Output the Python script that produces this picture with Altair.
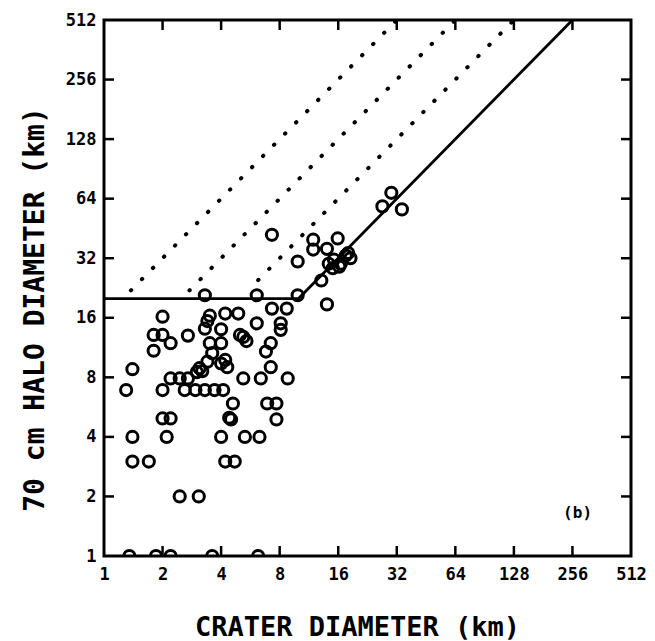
import altair as alt
import pandas as pd

# ---- data ----
crater_d = [3.3, 6.1, 9.9, 7.3, 8.7, 14.0, 2.0, 3.5, 3.4, 4.2, 4.9, 6.1, 8.1, 8.1,
            1.8, 2.0, 2.2, 2.7, 1.8, 3.3, 4.0, 3.5, 4.0, 5.0, 5.2, 5.4, 7.2, 6.8,
            3.6, 4.2, 4.3, 4.0, 3.1, 3.2, 3.0, 3.4, 1.4, 7.2, 5.2, 6.4, 8.8,
            1.3, 2.0, 2.2, 2.45, 2.7, 2.6, 2.95, 3.3, 3.7, 4.1, 4.6, 4.4, 4.5,
            6.9, 7.7, 7.7, 2.0, 2.2, 1.4, 2.1, 4.0, 5.3, 6.3, 1.4, 1.7, 4.2, 4.7,
            2.45, 3.07, 1.35, 1.85, 2.2, 3.6, 6.2,
            7.3, 9.9, 11.9, 11.9, 14.0, 15.9, 14.3, 15.2, 16.5, 17.5, 18.5, 15.0,
            16.2, 18.0, 13.1, 27.0, 30.0, 34.0]
halo_d = [20.8, 20.8, 20.8, 17.8, 17.8, 18.7, 16.2, 16.4, 15.4, 16.8, 16.8, 15.0, 15.0, 13.9,
          13.1, 13.1, 11.9, 13.0, 10.9, 14.1, 14.0, 11.9, 11.9, 13.1, 12.8, 12.2, 11.9, 10.8,
          10.6, 9.8, 9.0, 9.4, 8.9, 8.6, 8.5, 9.6, 8.8, 9.0, 7.9, 7.9, 7.9,
          6.9, 6.9, 7.9, 7.9, 7.9, 6.9, 6.9, 6.9, 6.9, 6.9, 5.9, 5.0, 4.9,
          5.9, 5.9, 4.9, 4.96, 4.96, 4.0, 4.0, 4.0, 4.0, 4.0, 3.0, 3.0, 3.0, 3.0,
          2.0, 2.0, 1.0, 1.0, 1.0, 1.0, 1.0,
          42.0, 30.8, 39.7, 35.4, 35.7, 40.3, 30.0, 31.5, 30.0, 33.0, 32.0, 28.5,
          29.0, 34.0, 24.7, 58.5, 68.5, 56.5]

# solid envelope line
solid_x = [1, 10, 256]
solid_y = [20, 20, 512]

# dotted lines (halo = 16x, 8x, 4x crater diameter)
dot_grp = ["a", "a", "b", "b", "c", "c"]
dot_x = [1.375, 32, 2.75, 64, 6.2, 128]
dot_y = [22, 512, 22, 512, 24.8, 512]

tick_vals = [1, 2, 4, 8, 16, 32, 64, 128, 256, 512]
inner_ticks = [2, 4, 8, 16, 32, 64, 128, 256]

W, H = 527, 536
FONT = "DejaVu Sans Mono"

pts = pd.DataFrame({"x": crater_d, "y": halo_d})
solid = pd.DataFrame({"x": solid_x, "y": solid_y})
dots = pd.DataFrame({"g": dot_grp, "x": dot_x, "y": dot_y})
ticks = pd.DataFrame({"x": inner_ticks, "y": inner_ticks})
label_df = pd.DataFrame({"x": [272], "y": [1.64], "t": ["(b)"]})

xs = alt.Scale(type="log", base=2, domain=[1, 512], nice=False)
ys = alt.Scale(type="log", base=2, domain=[1, 512], nice=False)

x_axis = alt.Axis(values=tick_vals, title="CRATER DIAMETER (km)", grid=False, domain=False,
                  ticks=False, labelFont=FONT, labelFontWeight="bold", labelFontSize=17,
                  labelColor="black", labelPadding=10, labelFlush=False, labelOverlap=False,
                  titleFont=FONT, titleFontSize=27, titleFontWeight="bold", titleColor="black",
                  titleX=253, titleY=71, titleBaseline="middle", titleAlign="center")
y_axis = alt.Axis(values=tick_vals, title="70 cm HALO DIAMETER (km)", grid=False, domain=False,
                  ticks=False, labelFont=FONT, labelFontWeight="bold", labelFontSize=17,
                  labelColor="black", labelPadding=8, labelFlush=False, labelOverlap=False,
                  labelBaseline="middle",
                  titleFont=FONT, titleFontSize=28, titleFontWeight="bold", titleColor="black",
                  titleX=-69, titleY=289, titleAngle=270, titleBaseline="middle", titleAlign="center")

X = alt.X("x:Q", scale=xs, axis=x_axis)
Y = alt.Y("y:Q", scale=ys, axis=y_axis)

points = alt.Chart(pts).mark_point(shape="circle", filled=False, color="black", size=125,
                                   strokeWidth=3, opacity=1, clip=True).encode(x=X, y=Y)

solid_line = alt.Chart(solid).mark_line(color="black", strokeWidth=2.8, clip=True).encode(x=X, y=Y)

dotted = alt.Chart(dots).mark_line(color="black", strokeWidth=4, strokeCap="round",
                                   strokeDash=[0.5, 15.2], clip=True).encode(
    x=X, y=Y, detail="g:N")

tk = dict(color="black", strokeWidth=2.5)
tick_bottom = alt.Chart(ticks).mark_rule(**tk).encode(x=X, y=alt.value(H), y2=alt.value(H - 10))
tick_top = alt.Chart(ticks).mark_rule(**tk).encode(x=X, y=alt.value(0), y2=alt.value(10))
tick_left = alt.Chart(ticks).mark_rule(**tk).encode(y=Y, x=alt.value(0), x2=alt.value(10))
tick_right = alt.Chart(ticks).mark_rule(**tk).encode(y=Y, x=alt.value(W), x2=alt.value(W - 10))

panel_label = alt.Chart(label_df).mark_text(font=FONT, fontSize=16, fontWeight="bold",
                                            color="black").encode(x=X, y=Y, text="t:N")

chart = alt.layer(points, solid_line, dotted, tick_bottom, tick_top, tick_left, tick_right,
                  panel_label).properties(
    width=W, height=H,
    padding={"left": 96, "top": 12, "right": 16, "bottom": 85},
    autosize=alt.AutoSizeParams(type="none"),
    background="white",
).configure_view(stroke="black", strokeWidth=3)

chart.save("out.html", embed_options={"renderer": "svg", "actions": False})
